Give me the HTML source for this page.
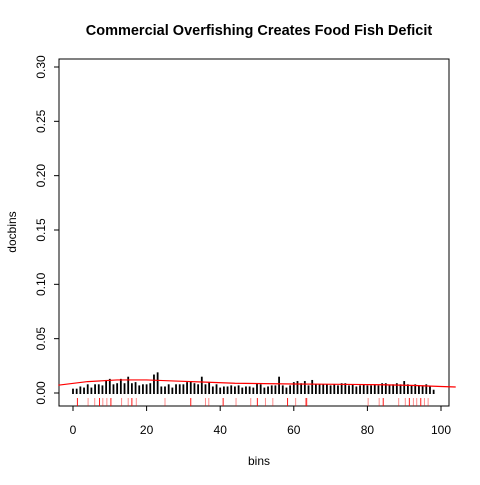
<!DOCTYPE html>
<html><head><meta charset="utf-8"><style>
body{margin:0;background:#fff}
svg{font-family:"Liberation Sans",Arial,sans-serif}
</style></head><body>
<svg id="c" width="480" height="480">
<text x="259" y="35" text-anchor="middle" font-size="14.5" font-weight="bold">Commercial Overfishing Creates Food Fish Deficit</text>
<rect x="59" y="59" width="390" height="347" fill="none" stroke="#000"/>
<text x="259" y="465" text-anchor="middle" font-size="12">bins</text>
<text transform="translate(16,232) rotate(-90)" text-anchor="middle" font-size="12">docbins</text>
<g id="ax"></g><g id="marks"></g>
</svg>
<script>
const heights=[4,4,6,5,8,5,8,8,7,12,13,8,9,13,9,15,9,10,7,8,8,9,17,19,6,6,8,5,8,8,8,10,11,9,8,15,8,10,6,8,5,6,6,7,6,7,5,6,6,5,9,8,5,6,7,7,15,7,5,7,10,11,9,11,7,12,8,8,8,8,7,8,7,9,9,7,8,6,7,8,7,7,8,7,9,9,7,8,9,8,11,8,7,8,7,7,8,6,3];
const rug=[1.2,4.1,5.9,7.2,8.1,9.2,10.3,13.2,15,16,17.2,25,32,36,36.9,40.8,44.3,48.3,50.1,52.3,54.3,58.3,60.5,63.2,63.5,80.2,83.2,84.3,88.5,90.3,91.4,92.5,93.4,94.5,95.5,96.5];
const curveX=[-4,4,12,20,28,36,44,52,60,68,76,84,92,100,104];
const curveY=[7.2,10.5,12,12,11,10,9,8.6,8.3,8.1,7.9,7.6,7,6,5.5];
const xTicks=[0,20,40,60,80,100];
const yTicks=[0,0.05,0.10,0.15,0.20,0.25,0.30];
const yLabels=["0.00","0.05","0.10","0.15","0.20","0.25","0.30"];
const sx=v=>73+v*3.68, sy=v=>393-v*1086.7;
const NS="http://www.w3.org/2000/svg";
const ax=document.getElementById('ax'),mk=document.getElementById('marks');
function el(t,a,p){const e=document.createElementNS(NS,t);for(const k in a)e.setAttribute(k,a[k]);p.appendChild(e);return e;}
xTicks.forEach(v=>{
 const l=el('line',{x1:sx(v),x2:sx(v),y1:406,y2:411,stroke:'#000'},ax);
 
 
 const t=el('text',{x:sx(v),y:434,'text-anchor':'middle','font-size':12},ax);t.textContent=v;
 
 
});
yTicks.forEach((v,i)=>{
 const l=el('line',{x1:54,x2:59,y1:sy(v),y2:sy(v),stroke:'#000'},ax);
 
 
 const t=el('text',{transform:`translate(45,${sy(v)}) rotate(-90)`,'text-anchor':'middle','font-size':12},ax);t.textContent=yLabels[i];
 
 
});
heights.forEach((h,i)=>{
 const l=el('line',{x1:sx(i),x2:sx(i),y1:sy(0)+1,y2:sy(h/1000),stroke:'#000','stroke-width':1.8},mk);
 
 
});
rug.forEach((v,i)=>{
 const l=el('line',{x1:sx(v),x2:sx(v),y1:398,y2:406,stroke:'#f00','stroke-opacity':i%3==0?0.9:0.45},mk);
 
 
});
const p=el('polyline',{points:curveX.map((x,i)=>sx(x)+','+sy(curveY[i]/1000)).join(' '),fill:'none',stroke:'#f00','stroke-width':1.2},mk);


</script>
</body></html>
